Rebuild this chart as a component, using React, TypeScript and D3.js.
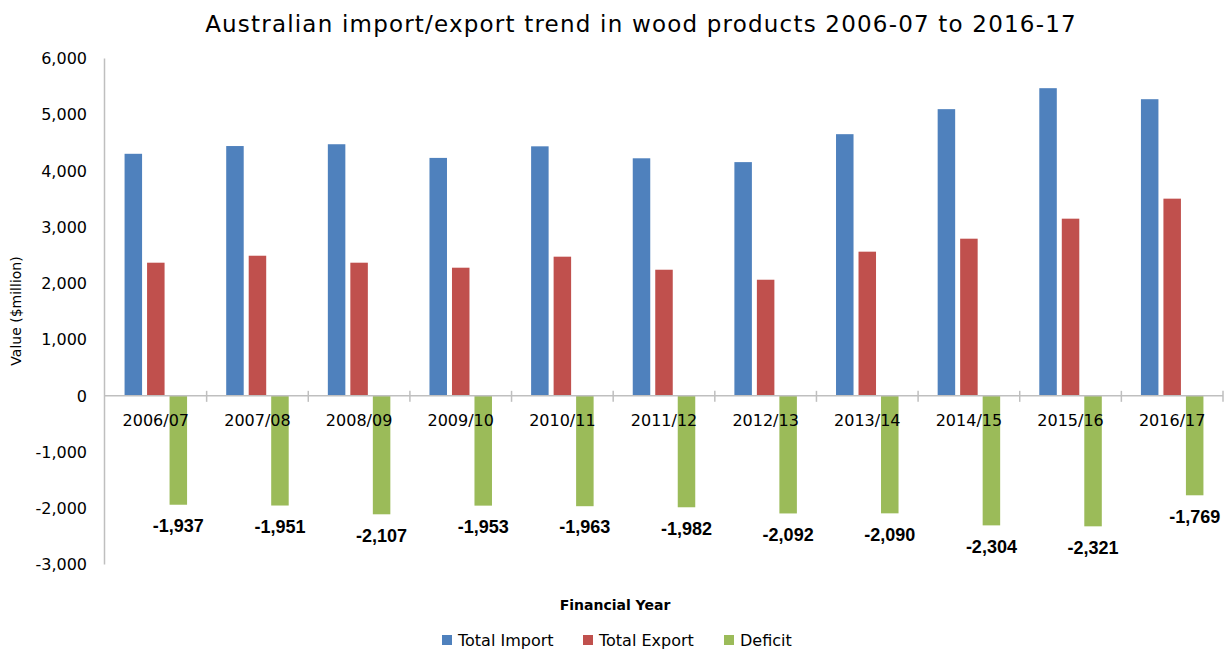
import React, { useEffect, useRef } from 'react';
import * as d3 from 'd3';

const years = ['2006/07', '2007/08', '2008/09', '2009/10', '2010/11', '2011/12', '2012/13', '2013/14', '2014/15', '2015/16', '2016/17'];
const totalImport = [4305, 4443, 4475, 4232, 4438, 4225, 4157, 4654, 5099, 5472, 5276];
const totalExport = [2368, 2492, 2368, 2279, 2475, 2243, 2065, 2564, 2795, 3151, 3507];
const deficit = [-1937, -1951, -2107, -1953, -1963, -1982, -2092, -2090, -2304, -2321, -1769];
const seriesNames = ['Total Import', 'Total Export', 'Deficit'];
const yTicks = [-3000, -2000, -1000, 0, 1000, 2000, 3000, 4000, 5000, 6000];

const colors = ['#4f81bd', '#c0504d', '#9bbb59'];
const FONT = 'DejaVu Sans, sans-serif';
const fmt = (v: number) => d3.format(',')(v).replace('\u2212', '-');

const App: React.FC = () => {
  const svgRef = useRef<SVGSVGElement>(null);

  useEffect(() => {
    if (!svgRef.current) return;
    const svg = d3.select(svgRef.current);
    svg.selectAll('*').remove();

    const left = 105, right = 1223, top = 58.5, bottom = 564.5;

    const x = d3.scaleBand().domain(years).range([left, right]).padding(0);
    const y = d3.scaleLinear().domain([-3000, 6000]).range([bottom, top]);

    const data = years.map((yr, i) => ({
      year: yr,
      values: [totalImport[i], totalExport[i], deficit[i]],
    }));

    // Title
    svg.append('text')
      .attr('x', 641)
      .attr('y', 32)
      .attr('text-anchor', 'middle')
      .attr('font-family', FONT)
      .attr('font-size', 23)
      .attr('letter-spacing', 1.2)
      .attr('fill', '#000')
      .text('Australian import/export trend in wood products 2006-07 to 2016-17');

    // Bars
    svg.append('g')
      .selectAll('g')
      .data(data)
      .join('g')
      .each(function (d) {
        const c = x(d.year)! + x.bandwidth() / 2;
        const inner = d3.scaleBand<number>()
          .domain([0, 1, 2])
          .range([c - 31.25, c + 31.25])
          .paddingInner(0.222)
          .paddingOuter(0);
        d3.select(this)
          .selectAll('rect')
          .data(d.values)
          .join('rect')
          .attr('x', (_, i) => inner(i)!)
          .attr('width', inner.bandwidth())
          .attr('y', v => y(Math.max(0, v)))
          .attr('height', v => Math.abs(y(v) - y(0)))
          .attr('fill', (_, i) => colors[i]);
      });

    // Y axis
    svg.append('line')
      .attr('x1', left - 0.5).attr('x2', left - 0.5)
      .attr('y1', top).attr('y2', bottom)
      .attr('stroke', '#bfbfbf').attr('stroke-width', 1.5);

    svg.append('g')
      .attr('font-family', FONT)
      .attr('font-size', 16)
      .attr('text-anchor', 'end')
      .selectAll('text')
      .data(yTicks)
      .join('text')
      .attr('x', 87)
      .attr('y', v => y(v))
      .attr('dy', '0.36em')
      .attr('fill', '#000')
      .text(v => fmt(v));

    // X axis along zero
    const y0 = y(0);
    svg.append('line')
      .attr('x1', left - 1).attr('x2', right)
      .attr('y1', y0).attr('y2', y0)
      .attr('stroke', '#bfbfbf').attr('stroke-width', 1.5);

    const boundaries = years.map(yr => x(yr)! + x.bandwidth());
    svg.append('g')
      .selectAll('line')
      .data(boundaries)
      .join('line')
      .attr('x1', d => d).attr('x2', d => d)
      .attr('y1', y0 - 5).attr('y2', y0 + 6)
      .attr('stroke', '#bfbfbf').attr('stroke-width', 1.5);

    svg.append('g')
      .attr('font-family', FONT)
      .attr('font-size', 16)
      .attr('text-anchor', 'middle')
      .selectAll('text')
      .data(years)
      .join('text')
      .attr('x', yr => x(yr)! + x.bandwidth() / 2)
      .attr('y', 426)
      .attr('fill', '#000')
      .text(yr => yr);

    // Deficit labels
    svg.append('g')
      .attr('font-family', 'Liberation Sans, Arial, sans-serif')
      .attr('font-size', 18)
      .attr('font-weight', 'bold')
      .attr('text-anchor', 'middle')
      .selectAll('text')
      .data(data)
      .join('text')
      .attr('x', d => x(d.year)! + x.bandwidth() / 2 + 22.5)
      .attr('y', d => y(d.values[2]) + 21)
      .attr('dy', '0.35em')
      .attr('fill', '#000')
      .text(d => fmt(d.values[2]));

    // Axis titles
    svg.append('text')
      .attr('x', 615)
      .attr('y', 610)
      .attr('text-anchor', 'middle')
      .attr('font-family', FONT)
      .attr('font-size', 14)
      .attr('font-weight', 'bold')
      .attr('fill', '#000')
      .text('Financial Year');

    svg.append('text')
      .attr('transform', 'translate(21,311) rotate(-90)')
      .attr('text-anchor', 'middle')
      .attr('font-family', FONT)
      .attr('font-size', 14)
      .attr('fill', '#000')
      .text('Value ($million)');

    // Legend
    const legendX = [442, 583, 724];
    const legend = svg.append('g')
      .selectAll('g')
      .data(seriesNames)
      .join('g')
      .attr('transform', (_, i) => `translate(${legendX[i]},635)`);
    legend.append('rect')
      .attr('width', 10).attr('height', 10)
      .attr('fill', (_, i) => colors[i]);
    legend.append('text')
      .attr('x', 16)
      .attr('y', 11)
      .attr('font-family', FONT)
      .attr('font-size', 16)
      .attr('fill', '#000')
      .text(d => d);
  }, []);

  return (
    <svg
      ref={svgRef}
      width={1227}
      height={652}
      style={{ position: 'absolute', left: 0, top: 0, background: '#fff' }}
    ></svg>
  );
};

export default App;
